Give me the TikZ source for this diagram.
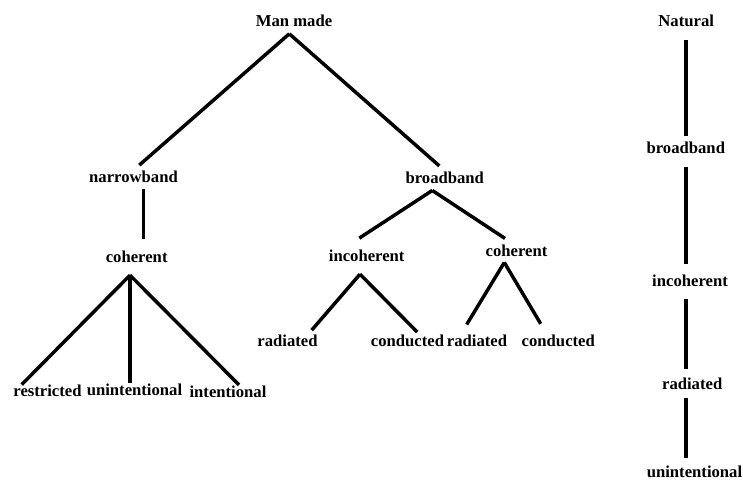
\documentclass[tikz,border=0pt]{standalone}
\usepackage{fontspec}
\setmainfont{Liberation Serif}
\usetikzlibrary{calc}

\tikzset{every picture/.style={line width=0.75pt}}
\tikzset{
  lbl/.style={font=\fontsize{12.5}{15}\selectfont\bfseries, anchor=base, text height=8.3pt, text depth=0pt, inner xsep=0pt, inner ysep=4.5pt},
  branch/.style={line width=2.6pt}
}

\begin{document}
\begin{tikzpicture}[x=0.75pt,y=0.75pt,yscale=-1,xscale=1]
\useasboundingbox (0,0) rectangle (743,483);

% Text Node
\draw (294,26.7) node [lbl, inner ysep=4.95pt] (man) {Man made};
% Text Node
\draw (133.5,182.7) node [lbl] (narrow) {narrowband};
% Text Node
\draw (444.8,183.7) node [lbl, inner ysep=4.7pt] (broad) {broadband};
% Text Node
\draw (136.7,262.7) node [lbl, inner ysep=9pt] (cohA) {coherent};
% Text Node
\draw (366.7,261.7) node [lbl, inner ysep=9pt] (incoh) {incoherent};
% Text Node
\draw (516.5,256) node [lbl] (cohB) {coherent};
% Text Node
\draw (47.5,396.7) node [lbl, inner ysep=0.4pt] (restr) {restricted};
% Text Node
\draw (134.5,395) node [lbl, inner ysep=0.4pt] (unint) {unintentional};
% Text Node
\draw (228,397) node [lbl, inner ysep=0.4pt] (inten) {intentional};
% Text Node
\draw (287.5,346.5) node [lbl, inner ysep=3.6pt] (radA) {radiated};
% Text Node
\draw (407.5,346.5) node [lbl, inner ysep=2.1pt] (condA) {conducted};
% Text Node
\draw (477,346.7) node [lbl, inner ysep=8pt] (radB) {radiated};
% Text Node
\draw (558.3,346.7) node [lbl, inner ysep=8.5pt] (condB) {conducted};

% Text Node
\draw (686.2,26) node [lbl, inner ysep=10pt] (nat) {Natural};
% Text Node
\draw (685.8,153.3) node [lbl, inner ysep=4.2pt, text depth=5.85pt] (natBroad) {broadband};
% Text Node
\draw (690,286.7) node [lbl, inner ysep=8.7pt] (natIncoh) {incoherent};
% Text Node
\draw (692.2,389) node [lbl, inner ysep=6.5pt] (natRad) {radiated};
% Text Node
\draw (694.5,477.7) node [lbl, inner ysep=6.3pt] (natUnint) {unintentional};

%Straight Lines
\draw [branch] ($(man.south)+(-4.7,0)$) -- ($(narrow.north)+(5.8,0)$);
%Straight Lines
\draw [branch] ($(man.south)+(-4.7,0)$) -- ($(broad.north)+(-5.5,0)$);
%Straight Lines
\draw [branch] ($(narrow.south)+(9.8,0)$) -- ($(cohA.north)+(6.6,0)$);
%Straight Lines
\draw [branch] ($(cohA.south)+(-6.7,0)$) -- ($(restr.north)+(-25.8,0)$);
%Straight Lines
\draw [branch] ($(cohA.south)+(-6.7,0)$) -- ($(unint.north)+(-4.5,0)$);
%Straight Lines
\draw [branch] ($(cohA.south)+(-6.7,0)$) -- ($(inten.north)+(11,0)$);
%Straight Lines
\draw [branch] ($(broad.south)+(-12.5,0)$) -- ($(incoh.north)+(-7.4,0)$);
%Straight Lines
\draw [branch] ($(broad.south)+(-12.5,0)$) -- ($(cohB.north)+(-11.5,0)$);
%Straight Lines
\draw [branch] ($(incoh.south)+(-6.7,0)$) -- ($(radA.north)+(24.2,0)$);
%Straight Lines
\draw [branch] ($(incoh.south)+(-6.7,0)$) -- ($(condA.north)+(9.8,0)$);
%Straight Lines
\draw [branch] ($(cohB.south)+(-12.2,0)$) -- ($(radB.north)+(-10.3,0)$);
%Straight Lines
\draw [branch] ($(cohB.south)+(-12.2,0)$) -- ($(condB.north)+(-17.6,0)$);

%Straight Lines
\draw [branch] (nat.south) -- (nat.south |- natBroad.north);
%Straight Lines
\draw [branch] (natBroad.south) -- (natBroad.south |- natIncoh.north);
%Straight Lines
\draw [branch] (natBroad.south |- natIncoh.south) -- (natBroad.south |- natRad.north);
%Straight Lines
\draw [branch] (natBroad.south |- natRad.south) -- (natBroad.south |- natUnint.north);

\end{tikzpicture}
\end{document}
